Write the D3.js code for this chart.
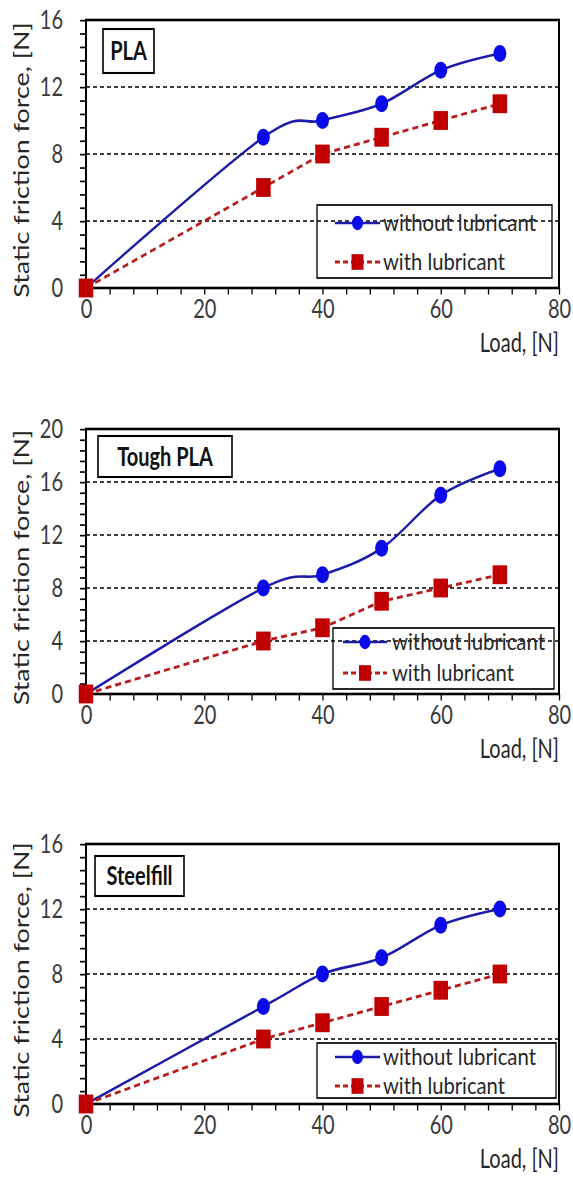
<!DOCTYPE html>
<html>
<head>
<meta charset="utf-8">
<script src="https://cdn.jsdelivr.net/npm/d3@7"></script>
<style>
  html, body { margin: 0; padding: 0; background: #fff; }
  svg { display: block; }
  text { font-family: Lato, "Open Sans", sans-serif; }
</style>
</head>
<body>
<svg id="viz"></svg>
<script>
// chart values
const loads = [0, 30, 40, 50, 60, 70];
const materials = ["PLA", "Tough PLA", "Steelfill"];
const withoutLub = [
  [0, 9, 10, 11, 13, 14],
  [0, 8, 9, 11, 15, 17],
  [0, 6, 8, 9, 11, 12]
];
const withLub = [
  [0, 6, 8, 9, 10, 11],
  [0, 4, 5, 7, 8, 9],
  [0, 4, 5, 6, 7, 8]
];
const yMaxes = [16, 20, 16];
const xTicks = [0, 20, 40, 60, 80];
const seriesNames = ["without lubricant", "with lubricant"];
const yTitle = "Static friction force, [N]";
const xTitle = "Load, [N]";

// the picture is stretched vertically, so draw in squeezed units and let the viewBox stretch it
const SY = 1.3;
const W = 573, H = 1193;
const left = 86, right = 559;

// panel placement, in final pixels
let layout = [
  {top: 20, bottom: 288, box: [103, 29, 154, 73], legend: [317, 205, 552, 278], rows: [223, 262], line: [335, 380], textX: 383},
  {top: 429, bottom: 694, box: [98, 436, 232, 477], legend: [333, 628, 554, 689], rows: [642, 673], line: [343, 387], textX: 392},
  {top: 844, bottom: 1104, box: [95, 856, 184, 896], legend: [317, 1043, 556, 1098], rows: [1057, 1086], line: [335, 380], textX: 383}
];

const blueLine = "#1c1ca8", blueDot = "#0a0ae8";
const redLine = "#b81c1c", redDot = "#c00000";

const svg = d3.select("#viz")
  .attr("width", W)
  .attr("height", H)
  .attr("viewBox", `0 0 ${W} ${H / SY}`)
  .attr("preserveAspectRatio", "none");

function sy(v){ return v / SY; }

function drawPanel(i){
  let L = layout[i];
  let yMax = yMaxes[i];
  let g = svg.append("g");

  let x = d3.scaleLinear().domain([0, 80]).range([left, right]);
  let y = d3.scaleLinear().domain([0, yMax]).range([sy(L.bottom), sy(L.top)]);

  // dashed grid at major ticks
  g.selectAll(".grid")
    .data(d3.range(4, yMax, 4))
    .enter()
    .append("line")
    .attr("x1", left).attr("x2", right)
    .attr("y1", d => y(d)).attr("y2", d => y(d))
    .attr("stroke", "#000")
    .attr("stroke-width", 1)
    .attr("stroke-dasharray", "4,3");

  // minor + major ticks
  let yMinor = g.append("g")
    .attr("transform", `translate(${left},0)`)
    .call(d3.axisLeft(y).tickValues(d3.range(0, yMax + 0.001, 0.8)).tickSize(6).tickFormat(""));
  let yLab = g.append("g")
    .attr("transform", `translate(${left},0)`)
    .call(d3.axisLeft(y).tickValues(d3.range(0, yMax + 1, 4)).tickSize(0).tickPadding(23));
  let xMinor = g.append("g")
    .attr("transform", `translate(0,${sy(L.bottom)})`)
    .call(d3.axisBottom(x).tickValues(d3.range(0, 81, 4)).tickSize(5).tickFormat(""));
  let xLab = g.append("g")
    .attr("transform", `translate(0,${sy(L.bottom)})`)
    .call(d3.axisBottom(x).tickValues(xTicks).tickSize(0).tickPadding(9));

  [yMinor, yLab, xMinor, xLab].forEach(a => {
    a.select(".domain").remove();
    a.selectAll("line").attr("stroke", "#000").attr("stroke-width", 1.3);
    a.selectAll("text")
      .attr("fill", "#3a3a3a")
      .style("font-size", "20px");
  });

  // plot frame
  g.append("rect")
    .attr("x", left).attr("y", sy(L.top))
    .attr("width", right - left)
    .attr("height", sy(L.bottom) - sy(L.top))
    .attr("fill", "none")
    .attr("stroke", "#000")
    .attr("stroke-width", 2);

  // series
  let ptsBlue = loads.map((l, k) => [l, withoutLub[i][k]]);
  let ptsRed = loads.map((l, k) => [l, withLub[i][k]]);

  let smooth = d3.line().x(d => x(d[0])).y(d => y(d[1])).curve(d3.curveCatmullRom.alpha(0));
  let straight = d3.line().x(d => x(d[0])).y(d => y(d[1]));

  g.append("path")
    .attr("d", smooth(ptsBlue))
    .attr("fill", "none")
    .attr("stroke", blueLine)
    .attr("stroke-width", 2);
  g.selectAll(".dotB")
    .data(ptsBlue)
    .enter()
    .append("circle")
    .attr("cx", d => x(d[0]))
    .attr("cy", d => y(d[1]))
    .attr("r", 6.5)
    .attr("fill", blueDot);

  g.append("path")
    .attr("d", straight(ptsRed))
    .attr("fill", "none")
    .attr("stroke", redLine)
    .attr("stroke-width", 2.2)
    .attr("stroke-dasharray", "6,4");
  g.selectAll(".dotR")
    .data(ptsRed)
    .enter()
    .append("rect")
    .attr("x", d => x(d[0]) - 7.25)
    .attr("y", d => y(d[1]) - 7.25)
    .attr("width", 14.5)
    .attr("height", 14.5)
    .attr("fill", redDot);

  // title box
  let b = L.box;
  g.append("rect")
    .attr("x", b[0]).attr("y", sy(b[1]))
    .attr("width", b[2] - b[0]).attr("height", sy(b[3]) - sy(b[1]))
    .attr("fill", "#fff")
    .attr("stroke", "#000")
    .attr("stroke-width", 1.6);
  g.append("text")
    .attr("x", (b[0] + b[2]) / 2)
    .attr("y", sy((b[1] + b[3]) / 2))
    .attr("dy", "0.36em")
    .attr("text-anchor", "middle")
    .style("font-size", "20px")
    .style("font-weight", "bold")
    .attr("fill", "#111")
    .text(materials[i]);

  // legend
  let lg = L.legend;
  g.append("rect")
    .attr("x", lg[0]).attr("y", sy(lg[1]))
    .attr("width", lg[2] - lg[0]).attr("height", sy(lg[3]) - sy(lg[1]))
    .attr("fill", "none")
    .attr("stroke", "#000")
    .attr("stroke-width", 1.3);
  let mid = (L.line[0] + L.line[1]) / 2;
  g.append("line")
    .attr("x1", L.line[0]).attr("x2", L.line[1])
    .attr("y1", sy(L.rows[0])).attr("y2", sy(L.rows[0]))
    .attr("stroke", blueLine).attr("stroke-width", 2);
  g.append("circle")
    .attr("cx", mid).attr("cy", sy(L.rows[0]))
    .attr("r", 5.5).attr("fill", blueDot);
  g.append("line")
    .attr("x1", L.line[0]).attr("x2", L.line[1])
    .attr("y1", sy(L.rows[1])).attr("y2", sy(L.rows[1]))
    .attr("stroke", redLine).attr("stroke-width", 2.2)
    .attr("stroke-dasharray", "5,3");
  g.append("rect")
    .attr("x", mid - 6).attr("y", sy(L.rows[1]) - 6)
    .attr("width", 12).attr("height", 12)
    .attr("fill", redDot);
  let widths = [153, 122];
  seriesNames.forEach((s, k) => {
    g.append("text")
      .attr("x", L.textX)
      .attr("y", sy(L.rows[k]))
      .attr("dy", "0.35em")
      .attr("textLength", widths[k])
      .attr("lengthAdjust", "spacingAndGlyphs")
      .style("font-size", "17.5px")
      .attr("fill", "#262626")
      .text(s);
  });

  // axis titles
  g.append("text")
    .attr("transform", `translate(22,${sy((L.top + L.bottom) / 2 + 6)}) rotate(-90)`)
    .attr("text-anchor", "middle")
    .attr("dy", "0.35em")
    .attr("textLength", 212)
    .attr("lengthAdjust", "spacingAndGlyphs")
    .style("font-size", "21px")
    .attr("fill", "#262626")
    .text(yTitle);
  g.append("text")
    .attr("x", right)
    .attr("y", sy(L.bottom + 55))
    .attr("dy", "0.35em")
    .attr("text-anchor", "end")
    .style("font-size", "20px")
    .attr("fill", "#262626")
    .text(xTitle);
}

materials.forEach((m, i) => drawPanel(i));
</script>
</body>
</html>
